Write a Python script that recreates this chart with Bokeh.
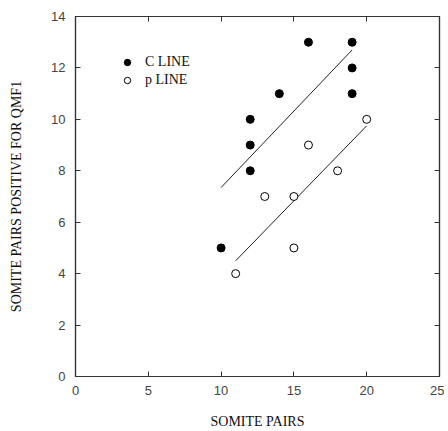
from bokeh.plotting import figure
from bokeh.models import Range1d, LinearAxis, FixedTicker, Legend, LegendItem
from bokeh.embed import file_html
from bokeh.resources import INLINE

# Data
c_x = [10, 12, 12, 12, 14, 16, 19, 19, 19]
c_y = [5, 8, 9, 10, 11, 13, 13, 12, 11]
p_x = [11, 13, 15, 15, 16, 18, 20]
p_y = [4, 7, 7, 5, 9, 8, 10]
c_fit_x = [10, 19]
c_fit_y = [7.35, 12.7]
p_fit_x = [11, 20]
p_fit_y = [4.5, 9.75]
x_ticks = [0, 5, 10, 15, 20, 25]
y_ticks = [0, 2, 4, 6, 8, 10, 12, 14]
x_title = "SOMITE PAIRS"
y_title = "SOMITE PAIRS POSITIVE FOR QMF1"
legend_labels = ["C LINE", "p LINE"]

SERIF = "Liberation Serif"
SANS = "Liberation Sans"
AX = "#333333"

p = figure(width=444, height=431, x_range=Range1d(0, 25), y_range=Range1d(0, 14),
           output_backend="svg", toolbar_location=None,
           min_border_left=75, min_border_right=5, min_border_top=16, min_border_bottom=55)
p.xgrid.visible = False
p.ygrid.visible = False
p.outline_line_color = AX
p.outline_line_width = 1.2
p.background_fill_color = "white"
p.border_fill_color = "white"


def style(ax, ticks, labels=True):
    ax.ticker = FixedTicker(ticks=ticks)
    ax.major_tick_in = 5
    ax.major_tick_out = 0
    ax.minor_tick_line_color = None
    ax.major_tick_line_color = AX
    ax.axis_line_color = AX
    ax.axis_line_width = 1.2
    ax.major_label_text_font = SANS
    ax.major_label_text_font_size = "13px"
    ax.major_label_text_color = "#444444"
    if labels:
        ax.axis_label_text_font = SERIF
        ax.axis_label_text_font_size = "14px"
        ax.axis_label_text_font_style = "normal"
        ax.axis_label_text_color = "#111111"
    else:
        ax.major_label_overrides = {t: "" for t in ticks}
        ax.major_label_standoff = 0


style(p.xaxis[0], x_ticks)
style(p.yaxis[0], y_ticks)
p.xaxis[0].axis_label = x_title
p.yaxis[0].axis_label = y_title
p.xaxis[0].major_label_standoff = 9
p.yaxis[0].major_label_standoff = 10
p.xaxis[0].axis_label_standoff = 16
p.yaxis[0].axis_label_standoff = 24

top = LinearAxis()
style(top, x_ticks, labels=False)
p.add_layout(top, "above")
right = LinearAxis()
style(right, y_ticks, labels=False)
p.add_layout(right, "right")

p.line(c_fit_x, c_fit_y, line_color="#222222", line_width=1)
p.line(p_fit_x, p_fit_y, line_color="#222222", line_width=1)
rc = p.scatter(c_x, c_y, size=8, fill_color="black", line_color="black")
rp = p.scatter(p_x, p_y, size=8, fill_color="white", line_color="black", line_width=1)

legend = Legend(items=[LegendItem(label=legend_labels[0], renderers=[rc]),
                       LegendItem(label=legend_labels[1], renderers=[rp])],
                location=(44, 288), padding=0, margin=0, spacing=2,
                glyph_width=16, glyph_height=16, label_standoff=10,
                border_line_color=None, background_fill_alpha=0,
                label_text_font=SERIF, label_text_font_size="14px",
                label_text_color="#111111")
p.add_layout(legend, "center")

open("out.html", "w").write(file_html(p, INLINE))
